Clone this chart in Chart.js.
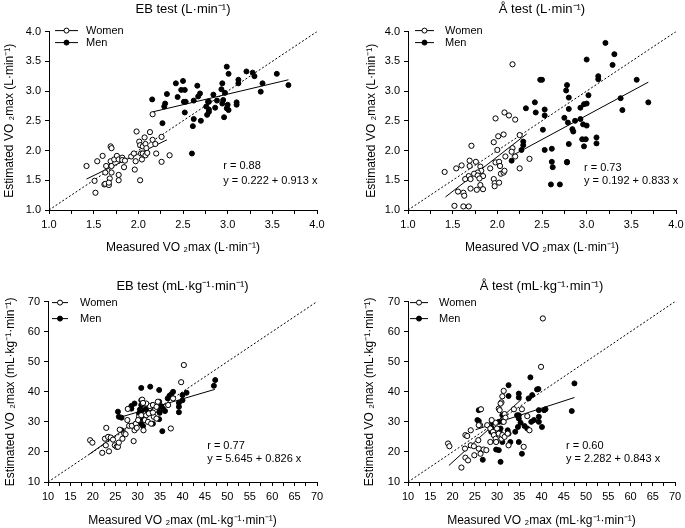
<!DOCTYPE html>
<html lang="en">
<head>
<meta charset="UTF-8">
<title>Estimated vs measured VO2max</title>
<script src="https://cdn.jsdelivr.net/npm/chart.js@4.4.1/dist/chart.umd.min.js"></script>
<style>
body {margin:0; background:#fff;}
.panel {position:absolute;}
</style>
</head>
<body>
<canvas id="p1" class="panel" width="342" height="264" style="left:0;top:0"></canvas>
<canvas id="p2" class="panel" width="343" height="264" style="left:342px;top:0"></canvas>
<canvas id="p3" class="panel" width="342" height="264" style="left:0;top:264px"></canvas>
<canvas id="p4" class="panel" width="343" height="264" style="left:342px;top:264px"></canvas>

<script>
// ---- EB test, L/min ----
var ebLWomen = [[2.16,2.61],[1.42,1.74],[1.54,1.82],[1.60,1.91],[1.51,1.49],[1.52,1.29],[1.63,1.63],[1.62,1.43],[1.63,1.44],[1.64,1.74],[1.67,1.42],[1.69,1.82],[1.69,2.07],[1.70,2.04],[1.70,1.74],[1.70,1.63],[1.68,1.53],[1.67,1.46],[1.73,1.85],[1.76,1.91],[1.78,1.85],[1.82,1.88],[1.82,1.84],[1.78,1.59],[1.78,1.50],[1.84,1.72],[1.85,1.83],[1.92,1.90],[1.95,1.95],[1.96,1.68],[1.97,1.82],[1.98,2.32],[2.01,2.15],[2.02,2.09],[2.02,1.50],[2.03,1.95],[2.04,1.85],[2.05,1.95],[2.05,2.07],[2.07,2.22],[2.08,1.92],[2.08,2.11],[2.09,2.04],[2.10,1.96],[2.13,2.31],[2.16,2.18],[2.20,1.95],[2.19,2.11],[2.26,2.23],[2.26,1.81],[2.35,1.92]];
var ebLMen = [[2.155,2.86],[2.30,2.79],[2.29,2.74],[2.32,2.95],[2.27,2.46],[2.42,3.13],[2.50,3.17],[2.48,3.02],[2.44,2.90],[2.52,3.02],[2.51,2.82],[2.53,2.82],[2.52,2.64],[2.62,2.84],[2.66,3.09],[2.69,2.96],[2.67,2.91],[2.62,2.53],[2.61,2.41],[2.60,1.95],[2.70,2.50],[2.76,2.74],[2.78,2.82],[2.79,2.82],[2.77,2.60],[2.79,2.65],[2.84,2.94],[2.86,2.72],[2.88,2.84],[2.79,2.69],[2.94,3.13],[2.93,3.03],[2.97,2.97],[2.95,2.85],[2.94,2.79],[2.96,2.56],[2.99,3.41],[3.01,3.29],[3.00,2.77],[3.01,2.68],[2.99,2.71],[3.10,2.81],[3.10,2.77],[3.12,3.19],[3.12,3.13],[3.21,3.33],[3.28,3.31],[3.30,3.25],[3.37,2.99],[3.39,3.13],[3.55,3.29],[3.68,3.10]];
var ebLWomenFit = [[1.42,1.52],[2.32,2.18]];
var ebLMenFit = [[2.16,2.65],[3.68,3.19]];

// ---- Å test, L/min ----
var aLWomen = [[2.17,3.45],[2.08,2.64],[2.13,2.59],[2.20,2.52],[1.98,2.54],[1.71,2.08],[2.01,2.24],[2.07,2.27],[2.25,2.26],[1.96,2.14],[2.00,2.01],[2.17,2.04],[2.09,1.90],[2.20,1.90],[2.16,1.98],[1.41,1.64],[1.54,1.70],[1.60,1.75],[1.69,1.83],[1.69,1.74],[1.76,1.81],[1.98,1.80],[2.02,1.81],[2.03,1.74],[1.92,1.70],[1.81,1.73],[1.82,1.66],[1.78,1.63],[1.74,1.61],[1.68,1.57],[1.64,1.52],[1.70,1.52],[1.81,1.57],[1.84,1.57],[1.96,1.52],[1.97,1.45],[2.02,1.46],[2.04,1.61],[2.07,1.63],[2.08,1.66],[2.25,1.70],[2.36,1.86],[1.56,1.31],[1.62,1.29],[1.63,1.24],[1.70,1.36],[1.77,1.34],[1.81,1.42],[1.84,1.35],[1.97,1.40],[1.52,1.07],[1.62,1.06],[1.68,1.06],[1.78,1.58],[1.80,1.53]];
var aLMen = [[3.21,3.81],[3.31,3.62],[3.29,3.44],[3.00,3.53],[3.13,3.25],[3.13,3.20],[3.56,3.19],[2.48,3.19],[2.50,3.19],[2.78,3.10],[2.77,3.01],[2.32,2.71],[2.42,2.81],[2.43,2.64],[2.53,2.69],[2.53,2.59],[2.80,2.89],[2.80,2.70],[3.02,2.93],[3.00,2.79],[2.97,2.78],[2.93,2.72],[3.38,2.88],[3.40,2.68],[3.69,2.81],[2.75,2.55],[2.79,2.47],[2.87,2.50],[2.93,2.53],[2.96,2.44],[3.00,2.42],[2.84,2.36],[2.85,2.32],[2.51,2.35],[2.29,2.15],[2.29,2.09],[2.27,2.01],[2.53,2.01],[2.61,2.03],[2.80,2.11],[2.95,2.19],[2.99,2.19],[2.97,2.07],[3.11,2.22],[3.11,2.12],[2.61,1.81],[2.62,1.72],[2.78,1.81],[2.78,1.80],[2.60,1.43],[2.70,1.43],[2.16,1.83]];
var aLWomenFit = [[1.42,1.22],[2.33,2.28]];
var aLMenFit = [[2.16,1.91],[3.69,3.15]];

// ---- EB test, mL/kg/min ----
var ebKgWomen = [[40.3,48.9],[39.7,43.2],[37.4,27.8],[36.8,35.6],[37.9,37.8],[19.4,23.9],[19.9,23.1],[23.0,28.0],[22.1,19.7],[22.9,22.2],[22.7,24.4],[23.4,25.0],[23.6,20.2],[24.0,24.8],[24.5,24.1],[24.9,22.2],[25.3,21.7],[25.6,21.7],[26.0,27.4],[25.8,23.1],[26.6,24.4],[27.0,26.1],[27.3,25.9],[27.7,30.6],[27.8,34.3],[28.1,28.7],[28.7,28.7],[29.1,23.6],[29.3,27.2],[29.6,29.4],[29.8,28.0],[30.3,31.7],[30.1,30.6],[30.8,32.2],[31.0,37.4],[31.3,27.2],[31.6,30.6],[31.9,32.2],[32.3,30.0],[32.5,32.8],[32.7,35.3],[33.0,29.4],[33.4,35.6],[33.6,31.7],[33.8,33.9],[34.2,35.0],[34.5,36.7],[34.2,31.1],[33.4,33.1],[31.9,36.1],[31.2,36.3]];
var ebKgMen = [[47.0,42.0],[47.3,43.9],[40.9,39.7],[40.0,37.2],[39.2,36.3],[39.2,35.0],[39.2,33.2],[40.0,38.9],[37.9,40.0],[37.5,39.2],[37.1,38.7],[36.7,37.8],[32.8,41.7],[30.8,41.3],[34.8,40.6],[29.3,36.1],[28.6,34.4],[25.6,33.4],[25.8,31.7],[30.8,37.2],[30.8,35.6],[31.0,33.9],[31.9,34.4],[32.3,33.1],[33.3,35.6],[34.2,34.7],[34.5,33.9],[34.9,33.0],[35.3,35.2],[35.7,34.3],[36.1,33.6],[33.4,29.4],[34.8,30.9],[31.2,28.6],[30.8,29.4],[31.2,31.1],[35.5,26.9],[34.8,36.7],[33.8,33.9],[30.3,32.8],[30.5,34.1],[28.6,35.3],[26.4,27.2],[26.4,31.4]];
var ebKgWomenFit = [[19.2,19.2],[33.5,34.5]];
var ebKgMenFit = [[25.8,31.4],[47.2,40.8]];

// ---- Å test, mL/kg/min ----
var aKgWomen = [[40.3,64.4],[39.9,48.3],[36.8,31.9],[37.3,27.2],[35.6,34.2],[36.0,21.7],[33.8,34.2],[31.5,40.3],[31.2,38.5],[31.0,36.5],[30.8,36.1],[30.4,34.4],[30.6,33.9],[31.7,32.6],[31.9,31.4],[31.5,30.0],[26.4,34.2],[26.2,28.9],[25.9,28.9],[27.8,28.9],[28.5,27.8],[29.1,26.7],[29.3,25.6],[29.7,24.4],[29.8,23.3],[30.0,27.8],[30.4,26.1],[31.0,24.4],[31.2,25.6],[31.7,25.0],[32.4,26.1],[24.1,27.2],[22.9,25.6],[23.3,25.3],[25.8,23.9],[19.0,22.8],[19.3,21.9],[24.1,22.2],[24.8,21.9],[25.9,21.1],[26.3,19.4],[24.9,18.9],[27.0,20.8],[27.6,20.6],[22.8,21.1],[22.9,18.1],[23.5,17.2],[22.0,14.8],[32.6,22.2],[28.5,23.3],[29.7,29.7],[28.8,30.6]];
var aKgMen = [[37.5,44.8],[39.0,40.8],[37.1,37.8],[37.9,38.9],[34.9,39.4],[34.9,38.1],[32.6,42.2],[32.6,38.6],[47.4,42.8],[46.8,33.6],[39.4,33.9],[39.4,31.7],[39.4,30.0],[40.1,28.3],[38.3,30.6],[36.2,28.6],[35.3,29.7],[34.9,32.2],[34.9,31.1],[34.5,32.2],[34.1,26.7],[34.9,23.3],[35.6,19.4],[33.0,23.3],[31.2,23.3],[30.8,16.7],[30.4,20.6],[29.8,20.8],[31.2,30.0],[31.2,32.2],[30.4,30.0],[32.4,27.2],[32.6,26.1],[30.8,27.8],[30.6,26.7],[25.9,33.9],[25.6,30.6],[25.9,30.3],[28.8,28.0],[28.9,30.0],[26.8,17.4],[28.7,26.7],[34.7,28.3],[36.8,27.8],[37.7,30.0],[40.9,34.2],[40.6,33.9],[39.3,40.9]];
var aKgWomenFit = [[19.2,15.5],[35.5,37.5]];
var aKgMenFit = [[25.2,27.4],[47.4,38.1]];

var FONT = '"Liberation Sans", Arial, sans-serif';
Chart.defaults.font.family = FONT;
Chart.defaults.color = '#000';

function pts(arr) {
  return arr.map(function (p) { return {x: p[0], y: p[1]}; });
}

// legend + r / equation text, drawn against the chart area and scales
function makeExtras(cfg) {
  return {
    id: 'extras',
    afterDatasetsDraw: function (chart) {
      var ctx = chart.ctx, a = chart.chartArea;
      ctx.save();
      ctx.font = '11px ' + FONT;
      ctx.strokeStyle = '#000';
      ctx.lineWidth = 1;
      ctx.textBaseline = 'middle';
      var items = [{text: 'Women', filled: false}, {text: 'Men', filled: true}];
      items.forEach(function (it, i) {
        var y = a.top + cfg.legendY[i];
        var x0 = a.left + cfg.legendLine[0], x1 = a.left + cfg.legendLine[1];
        ctx.beginPath(); ctx.moveTo(x0, y); ctx.lineTo(x1, y); ctx.stroke();
        ctx.beginPath(); ctx.arc((x0 + x1) / 2, y, 2.5, 0, Math.PI * 2);
        ctx.fillStyle = it.filled ? '#000' : '#fff';
        ctx.fill(); ctx.stroke();
        ctx.fillStyle = '#000';
        ctx.fillText(it.text, a.left + cfg.legendText, y);
      });
      var sx = chart.scales.x.getPixelForValue(cfg.statAt[0]);
      var sy = chart.scales.y.getPixelForValue(cfg.statAt[1]);
      cfg.stats.forEach(function (s, i) { ctx.fillText(s, sx, sy + i * cfg.statGap); });
      ctx.restore();
    }
  };
}

function makePanel(cfg) {
  var near = function (v, step) { return Math.abs(v / step - Math.round(v / step)) < 1e-6; };
  new Chart(document.getElementById(cfg.id), {
    type: 'scatter',
    data: {
      datasets: [
        {data: pts(cfg.women), pointRadius: 2.6, pointBackgroundColor: '#fff', pointBorderColor: '#000', pointBorderWidth: 1},
        {data: pts(cfg.men), pointRadius: 2.5, pointBackgroundColor: '#000', pointBorderColor: '#000', pointBorderWidth: 1},
        {data: pts(cfg.womenFit), showLine: true, pointRadius: 0, borderColor: '#000', borderWidth: 1},
        {data: pts(cfg.menFit), showLine: true, pointRadius: 0, borderColor: '#000', borderWidth: 1},
        {data: [{x: cfg.min, y: cfg.min}, {x: cfg.max, y: cfg.max}], showLine: true, pointRadius: 0, borderColor: '#000', borderWidth: 1, borderDash: [2, 2]}
      ]
    },
    options: {
      responsive: false,
      animation: false,
      layout: {padding: {left: cfg.padLeft, right: cfg.padRight, top: 0, bottom: 0}},
      plugins: {
        legend: {display: false},
        tooltip: {enabled: false},
        title: {display: true, text: cfg.title, fullSize: false, font: {size: 13, weight: 'normal'}, color: '#000', padding: cfg.titlePad}
      },
      scales: {
        x: {
          type: 'linear', min: cfg.min, max: cfg.max,
          // fixed height, and let the last label run past the plot edge
          afterFit: function (s) { s.height = cfg.xHeight; s.paddingRight = 0; },
          border: {color: '#000', width: 1},
          grid: {drawOnChartArea: false, tickLength: 4, tickColor: '#000'},
          ticks: {stepSize: cfg.minorX, autoSkip: false, maxRotation: 0, padding: 4, font: {size: 11},
            callback: function (v) { return near(v, cfg.major) ? v.toFixed(cfg.dec) : ''; }},
          title: {display: true, text: cfg.xTitle, font: {size: 12}, padding: {top: 0, bottom: cfg.xTitleBottom}}
        },
        y: {
          type: 'linear', min: cfg.min, max: cfg.max,
          afterFit: function (s) { s.width = cfg.yWidth; },
          border: {color: '#000', width: 1},
          grid: {drawOnChartArea: false, tickLength: 4, tickColor: '#000'},
          ticks: {stepSize: cfg.major, padding: 4, font: {size: 11},
            callback: function (v) { return v.toFixed(cfg.dec); }},
          title: {display: true, text: cfg.yTitle, font: {size: 12}, padding: {top: cfg.yTitleTop, bottom: 0}}
        }
      }
    },
    plugins: [makeExtras(cfg)]
  });
}

var absX = 'Measured VO \u2082max (L\u00b7min\u207b\u00b9)';
var absY = 'Estimated VO \u2082max (L\u00b7min\u207b\u00b9)';
var relX = 'Measured VO \u2082max (mL\u00b7kg\u207b\u00b9\u00b7min\u207b\u00b9)';
var relY = 'Estimated VO \u2082max (mL\u00b7kg\u207b\u00b9\u00b7min\u207b\u00b9)';

makePanel({id: 'p1', title: 'EB test (L\u00b7min\u207b\u00b9)', xTitle: absX, yTitle: absY,
  min: 1, max: 4, major: 0.5, minorX: 0.25, dec: 1,
  women: ebLWomen, men: ebLMen, womenFit: ebLWomenFit, menFit: ebLMenFit,
  stats: ['r = 0.88', 'y = 0.222 + 0.913 x'], statAt: [2.95, 1.74], statGap: 15,
  padLeft: 0, padRight: 25, yWidth: 49, xHeight: 54, titlePad: {top: 2, bottom: 14},
  xTitleBottom: 9, yTitleTop: 2, legendY: [-1, 11], legendLine: [6, 29], legendText: 37});

makePanel({id: 'p2', title: '\u00c5 test (L\u00b7min\u207b\u00b9)', xTitle: absX, yTitle: absY,
  min: 1, max: 4, major: 0.5, minorX: 0.25, dec: 1,
  women: aLWomen, men: aLMen, womenFit: aLWomenFit, menFit: aLMenFit,
  stats: ['r = 0.73', 'y = 0.192 + 0.833 x'], statAt: [2.97, 1.71], statGap: 13.5,
  padLeft: 20, padRight: 9, yWidth: 46, xHeight: 54, titlePad: {top: 2, bottom: 14},
  xTitleBottom: 9, yTitleTop: 2, legendY: [-1, 11], legendLine: [7, 26], legendText: 37});

makePanel({id: 'p3', title: 'EB test (mL\u00b7kg\u207b\u00b9\u00b7min\u207b\u00b9)', xTitle: relX, yTitle: relY,
  min: 10, max: 70, major: 5, minorX: 2.5, dec: 0,
  women: ebKgWomen, men: ebKgMen, womenFit: ebKgWomenFit, menFit: ebKgMenFit,
  stats: ['r = 0.77', 'y = 5.645 + 0.826 x'], statAt: [45.5, 22], statGap: 12.7,
  padLeft: 0, padRight: 25, yWidth: 48, xHeight: 46, titlePad: {top: 15, bottom: 7},
  xTitleBottom: 0, yTitleTop: 3, legendY: [1, 17], legendLine: [4, 20], legendText: 32});

makePanel({id: 'p4', title: '\u00c5 test (mL\u00b7kg\u207b\u00b9\u00b7min\u207b\u00b9)', xTitle: relX, yTitle: relY,
  min: 10, max: 70, major: 5, minorX: 2.5, dec: 0,
  women: aKgWomen, men: aKgMen, womenFit: aKgWomenFit, menFit: aKgMenFit,
  stats: ['r = 0.60', 'y = 2.282 + 0.843 x'], statAt: [45.5, 22], statGap: 12.7,
  padLeft: 20, padRight: 10, yWidth: 46, xHeight: 46, titlePad: {top: 15, bottom: 7},
  xTitleBottom: 0, yTitleTop: 0, legendY: [1, 17], legendLine: [2, 20], legendText: 31});
</script>
</body>
</html>
